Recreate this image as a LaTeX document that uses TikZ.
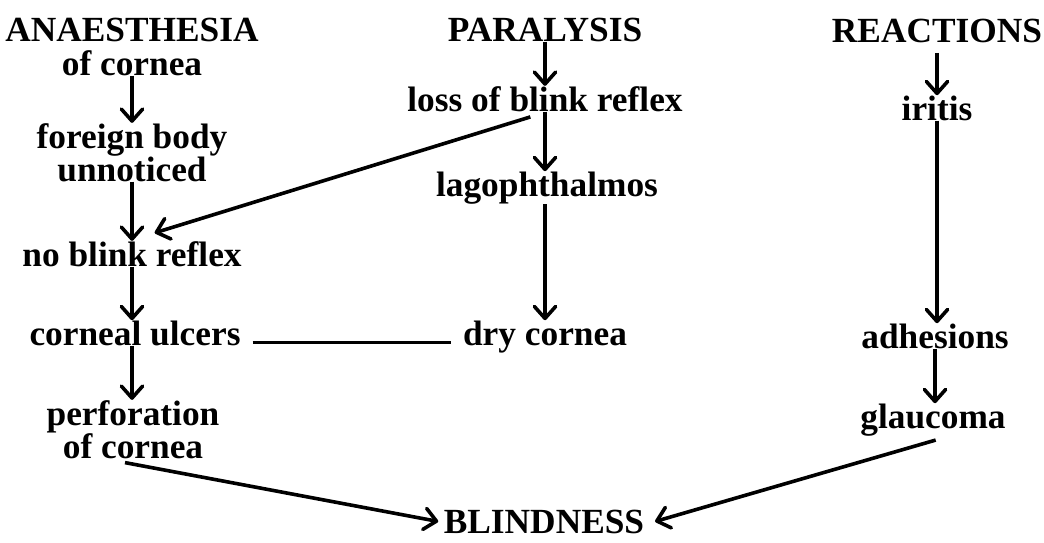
\documentclass[tikz,border=0pt]{standalone}
\usepackage{fontspec}
\setmainfont{Liberation Serif}
\usetikzlibrary{arrows.meta}
\tikzset{term/.style={inner sep=0pt,anchor=base,align=center,font=\bfseries\fontsize{26.5}{24.75}\selectfont},lead/.style={line width=2.7pt,-{Straight Barb[round,length=9pt,width=16pt]}},link/.style={line width=2.2pt}}

\begin{document}
\begin{tikzpicture}[x=0.75pt,y=-0.75pt]
\path[use as bounding box] (0,0) rectangle (1044,542);
\node[term] (anaes) at (132,75) {ANAESTHESIA\\of cornea};
\node[term] (body) at (132,181) {foreign body\\unnoticed};
\node[term] (noblink) at (132,266) {no blink reflex};
\node[term] (ulcers) at (135,345) {corneal ulcers};
\node[term] (perf) at (133,458) {perforation\\of cornea};
\node[term] (para) at (545,41) {PARALYSIS};
\node[term] (loss) at (545,111) {loss of blink reflex};
\node[term] (lago) at (547,196) {lagophthalmos};
\node[term] (dry) at (545,345) {dry cornea};
\node[term] (react) at (937,43) {REACTIONS};
\node[term] (iritis) at (937,120) {iritis};
\node[term] (adhes) at (935,348) {adhesions};
\node[term] (glauc) at (933,428) {glaucoma};
\node[term] (blind) at (544,533) {BLINDNESS};
\draw[lead] (anaes.south) -- (anaes.south |- body.north);
\draw[lead] (body.south) -- (body.south |- noblink.north);
\draw[lead] (noblink.south) -- (noblink.south |- ulcers.north);
\draw[lead] (noblink.south |- ulcers.south) -- (noblink.south |- perf.north);
\draw[lead] (para.south) -- (para.south |- loss.north);
\draw[lead] (loss.south) -- (loss.south |- lago.north);
\draw[lead] (loss.south |- lago.south) -- (loss.south |- dry.north);
\draw[lead] ([yshift=-7pt]react.south) -- (react.south |- iritis.north);
\draw[lead] (react.south |- iritis.south) -- (react.south |- adhes.north);
\draw[lead] (adhes.south) -- (adhes.south |- glauc.north);
\draw[lead] ([xshift=-11pt,yshift=-4pt]loss.south) -- ([xshift=17pt,yshift=6pt]noblink.north);
\draw[link] ([xshift=9pt,yshift=2pt]ulcers.base east) -- ([xshift=-9pt,yshift=2pt]dry.base west);
\draw[lead] ([xshift=-6pt,yshift=-3pt]perf.south) -- ([xshift=-4pt]blind.west);
\draw[lead] ([xshift=2pt,yshift=-3pt]glauc.south) -- ([xshift=8pt]blind.east);
\end{tikzpicture}
\end{document}
